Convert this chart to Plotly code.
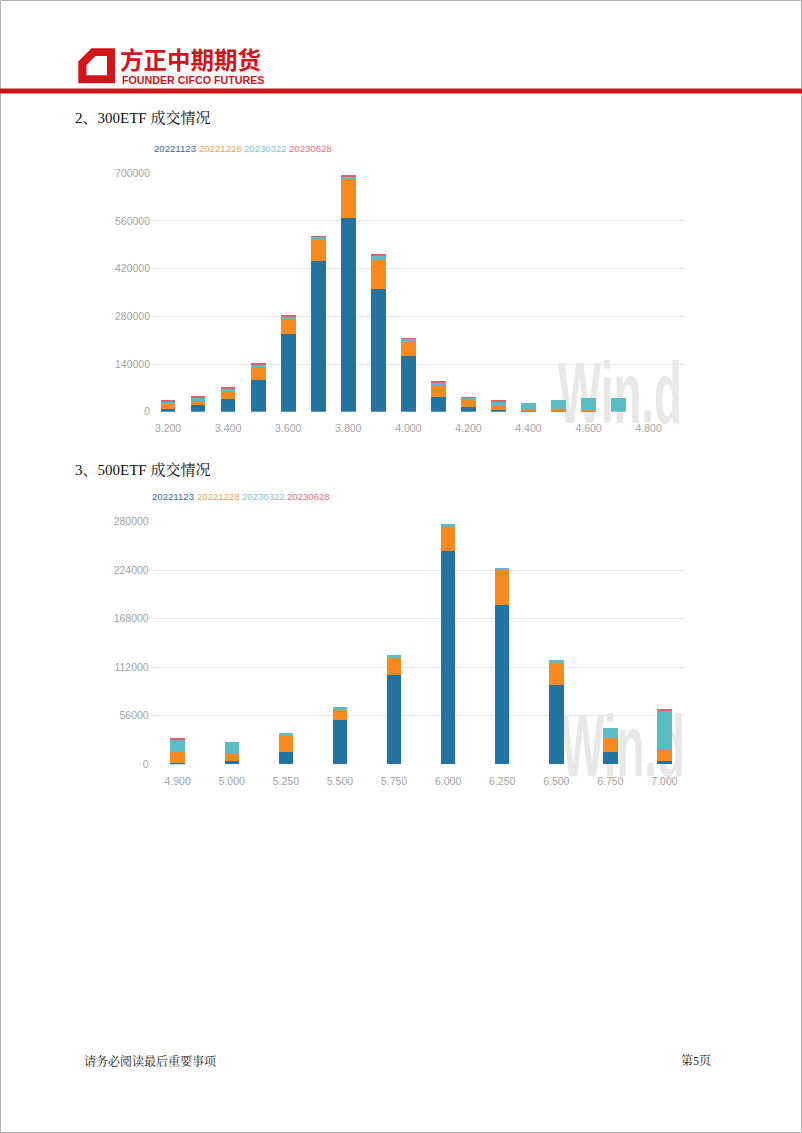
import base64
import plotly.graph_objects as go

W, H = 802, 1133

# ---------------- data ----------------
dates = ["20221123", "20221228", "20230322", "20230628"]

strikes_300 = ["3.200", "3.300", "3.400", "3.500", "3.600", "3.700", "3.800", "3.900",
               "4.000", "4.100", "4.200", "4.300", "4.400", "4.500", "4.600", "4.700", "4.800"]
etf300_20221123 = [6800, 21000, 37600, 91700, 228700, 443000, 569400, 361000,
                   163000, 43400, 13500, 4800, 1900, 1000, 1000, 0, 0]
etf300_20221228 = [14600, 10600, 20000, 35700, 43400, 61800, 113900, 85000,
                   40500, 30900, 20300, 10600, 4800, 5800, 2900, 0, 0]
etf300_20230322 = [7800, 9600, 10600, 11600, 7700, 7700, 7700, 11600,
                   9700, 10600, 6800, 14500, 20300, 27000, 36700, 40500, 0]
etf300_20230628 = [4000, 2900, 2900, 1000, 2900, 1900, 1000, 2900,
                   1000, 3900, 1000, 1000, 0, 0, 0, 0, 0]
ticks_300 = ["3.200", "3.400", "3.600", "3.800", "4.000", "4.200", "4.400", "4.600", "4.800"]
yticks_300 = [0, 140000, 280000, 420000, 560000, 700000]

strikes_500 = ["4.900", "5.000", "5.250", "5.500", "5.750", "6.000", "6.250", "6.500", "6.750", "7.000"]
etf500_20221123 = [1500, 3800, 14600, 51000, 102900, 246100, 184300, 91800, 14600, 3800]
etf500_20221228 = [12300, 8100, 18800, 12700, 19600, 29200, 40700, 25300, 15700, 12700]
etf500_20230322 = [15300, 13800, 2300, 1900, 4200, 1900, 800, 3500, 11900, 46100]
etf500_20230628 = [1150, 0, 0, 0, 0, 0, 0, 0, 0, 1150]
yticks_500 = [0, 56000, 112000, 168000, 224000, 280000]

bar_colors = ["#22739f", "#f68a1e", "#5bbcc5", "#e35d6a"]
legend_colors = ["#3b6c9c", "#f4a35a", "#86c6cf", "#e4707d"]

# ---------------- helpers ----------------
def px(x):
    return x / W

def py(y):
    return 1 - y / H

NARROW = "Liberation Sans Narrow, Arial Narrow, Liberation Sans, Arial, sans-serif"
TICK_FONT = dict(family=NARROW, size=10.5, color="#a3a3a3")
SERIF = "Liberation Serif, Noto Serif CJK SC, Noto Sans CJK SC, serif"

fig = go.Figure()

series300 = [etf300_20221123, etf300_20221228, etf300_20230322, etf300_20230628]
series500 = [etf500_20221123, etf500_20221228, etf500_20230322, etf500_20230628]

for name, vals, col in zip(dates, series300, bar_colors):
    fig.add_trace(go.Bar(x=strikes_300, y=vals, name=name, marker=dict(color=col, line=dict(width=0)),
                         width=0.49, xaxis="x", yaxis="y", showlegend=False))
for name, vals, col in zip(dates, series500, bar_colors):
    fig.add_trace(go.Bar(x=strikes_500, y=vals, name=name, marker=dict(color=col, line=dict(width=0)),
                         width=0.268, xaxis="x2", yaxis="y2", showlegend=False))

# chart pixel geometry
c1 = dict(l=153, r=685, t=173.3, b=411.7)
c2 = dict(l=151.7, r=685, t=521.7, b=764.3)

axis_common = dict(showline=False, zeroline=False, ticks="", tickfont=TICK_FONT, fixedrange=True,
                   automargin=False)

fig.update_layout(
    width=W, height=H,
    autosize=False,
    margin=dict(l=0, r=0, t=0, b=0, pad=0, autoexpand=False),
    paper_bgcolor="white",
    plot_bgcolor="rgba(0,0,0,0)",
    barmode="stack",
    showlegend=False,
    xaxis=dict(domain=[px(c1["l"]), px(c1["r"])], anchor="y", type="category",
               categoryorder="array", categoryarray=strikes_300,
               range=[-0.5, 17.21], tickvals=ticks_300, ticktext=ticks_300,
               showgrid=False, ticklabelstandoff=9, **axis_common),
    yaxis=dict(domain=[py(c1["b"]), py(c1["t"])], anchor="x", range=[0, 700000],
               tickvals=yticks_300, ticktext=[str(v) for v in yticks_300],
               showgrid=True, gridcolor="#e8e8e8", gridwidth=1, ticklabelstandoff=2, **axis_common),
    xaxis2=dict(domain=[px(c2["l"]), px(c2["r"])], anchor="y2", type="category",
                categoryorder="array", categoryarray=strikes_500,
                range=[-0.48, 9.38], tickvals=strikes_500, ticktext=strikes_500,
                showgrid=False, ticklabelstandoff=9, **axis_common),
    yaxis2=dict(domain=[py(c2["b"]), py(c2["t"])], anchor="x2", range=[0, 280000],
                tickvals=yticks_500, ticktext=[str(v) for v in yticks_500],
                showgrid=True, gridcolor="#e8e8e8", gridwidth=1, ticklabelstandoff=2, **axis_common),
)

shapes = []
annotations = []

# page border
shapes.append(dict(type="rect", xref="paper", yref="paper", x0=px(0.5), x1=px(801.5), y0=py(1132.5), y1=py(0.5),
                   line=dict(color="#b0b0b0", width=1), fillcolor="rgba(0,0,0,0)", layer="below"))
# red header line
shapes.append(dict(type="rect", xref="paper", yref="paper", x0=px(0), x1=px(802), y0=py(93.5), y1=py(88.5),
                   line=dict(width=0), fillcolor="#c8161e"))

# logo mark
def poly(points):
    return "M " + " L ".join(f"{px(x):.5f},{py(y):.5f}" for x, y in points) + " Z"

shapes.append(dict(type="path", xref="paper", yref="paper",
                   path=poly([(91.5, 48.3), (115, 48.3), (115, 83.3), (78.3, 83.3), (78.3, 61.5)]),
                   fillcolor="#d2141c", line=dict(width=0)))
shapes.append(dict(type="path", xref="paper", yref="paper",
                   path=poly([(95.5, 56), (107, 56), (107, 75.3), (86.5, 75.3), (86.5, 65)]),
                   fillcolor="white", line=dict(width=0)))

annotations.append(dict(text="<b>方正中期期货</b>", xref="paper", yref="paper", x=px(118), y=py(58.5),
                        xanchor="left", yanchor="middle", showarrow=False,
                        font=dict(family="Noto Sans CJK SC, sans-serif", size=23.5, color="#d2141c")))
annotations.append(dict(text="<b>FOUNDER CIFCO FUTURES</b>", xref="paper", yref="paper", x=px(120), y=py(80.5),
                        xanchor="left", yanchor="middle", showarrow=False,
                        font=dict(family="Liberation Sans, Arial, sans-serif", size=10.7, color="#d2141c")))

# section titles
annotations.append(dict(text="2、300ETF 成交情况", xref="paper", yref="paper", x=px(73), y=py(118),
                        xanchor="left", yanchor="middle", showarrow=False,
                        font=dict(family=SERIF, size=15, color="#111111")))
annotations.append(dict(text="3、500ETF 成交情况", xref="paper", yref="paper", x=px(73), y=py(469.5),
                        xanchor="left", yanchor="middle", showarrow=False,
                        font=dict(family=SERIF, size=15, color="#111111")))

# legends (text-only)
legend_x1 = [151.5, 196.5, 241.5, 286.5]
legend_x2 = [150, 195, 240, 285]
for name, col, lx in zip(dates, legend_colors, legend_x1):
    annotations.append(dict(text=name, xref="paper", yref="paper", x=px(lx), y=py(148),
                            xanchor="left", yanchor="middle", showarrow=False,
                            font=dict(family=NARROW, size=9.6, color=col)))
for name, col, lx in zip(dates, legend_colors, legend_x2):
    annotations.append(dict(text=name, xref="paper", yref="paper", x=px(lx), y=py(496.5),
                            xanchor="left", yanchor="middle", showarrow=False,
                            font=dict(family=NARROW, size=9.6, color=col)))

# footer
annotations.append(dict(text="请务必阅读最后重要事项", xref="paper", yref="paper", x=px(82), y=py(1061),
                        xanchor="left", yanchor="middle", showarrow=False,
                        font=dict(family=SERIF, size=12, color="#222222")))
annotations.append(dict(text="第5页", xref="paper", yref="paper", x=px(713), y=py(1061),
                        xanchor="right", yanchor="middle", showarrow=False,
                        font=dict(family=SERIF, size=12, color="#222222")))

# watermark images (behind bars)
svg = ('<svg xmlns="http://www.w3.org/2000/svg" width="130" height="70" viewBox="0 0 130 70">'
       '<text x="2" y="66" font-family="Liberation Sans Narrow, Arial Narrow, sans-serif" font-weight="bold" '
       'font-size="88" fill="#e8e8e8" textLength="124" lengthAdjust="spacingAndGlyphs">Win.d</text></svg>')
src = "data:image/svg+xml;base64," + base64.b64encode(svg.encode()).decode()
images = []
for (x0, y0) in [(556, 357), (559, 710)]:
    images.append(dict(source=src, xref="paper", yref="paper", x=px(x0), y=py(y0),
                       sizex=130 / W, sizey=70 / H, xanchor="left", yanchor="top",
                       sizing="stretch", layer="below"))

fig.update_layout(shapes=shapes, annotations=annotations, images=images)

post = ("var gd=document.getElementById('{plot_id}');"
        "gd.style.position='fixed';gd.style.top='0px';gd.style.left='0px';"
        "document.documentElement.style.margin='0';document.documentElement.style.overflow='hidden';"
        "document.body.style.margin='0';document.body.style.padding='0';document.body.style.overflow='hidden';")

fig.write_html("out.html", config={"displayModeBar": False}, post_script=post)
